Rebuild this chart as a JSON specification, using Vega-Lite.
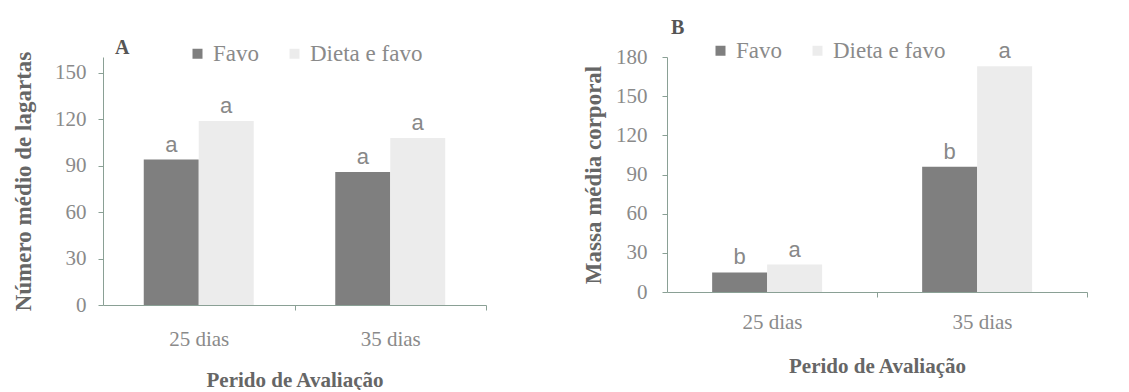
{
  "$schema": "https://vega.github.io/schema/vega-lite/v6.json",
  "background": "white",
  "padding": {"left": 12, "top": 18, "right": 0, "bottom": 0},
  "config": {
    "view": {"stroke": null},
    "font": "Liberation Serif",
    "style": {"guide-label": {"font": "Liberation Serif"}, "guide-title": {"font": "Liberation Serif"}},
    "axis": {
      "grid": false,
      "domainColor": "#8aa095",
      "tickColor": "#8aa095",
      "tickSize": 5,
      "labelFont": "Liberation Serif",
      "labelFontSize": 21,
      "labelColor": "#8a8a8a",
      "titleFont": "Liberation Serif",
      "titleFontWeight": "bold",
      "titleFontSize": 22,
      "titleColor": "#666666"
    },
    "legend": {
      "labelFont": "Liberation Serif",
      "labelFontSize": 23,
      "labelColor": "#8a8a8a",
      "symbolType": "square",
      "symbolSize": 100,
      "symbolStrokeWidth": 0
    }
  },
  "datasets": {
    "a": [
      {"periodo": "25 dias", "trat": "Favo", "valor": 94, "letra": "a"},
      {"periodo": "25 dias", "trat": "Dieta e favo", "valor": 119, "letra": "a"},
      {"periodo": "35 dias", "trat": "Favo", "valor": 86, "letra": "a"},
      {"periodo": "35 dias", "trat": "Dieta e favo", "valor": 108, "letra": "a"}
    ],
    "b": [
      {"periodo": "25 dias", "trat": "Favo", "valor": 15, "letra": "b"},
      {"periodo": "25 dias", "trat": "Dieta e favo", "valor": 21, "letra": "a"},
      {"periodo": "35 dias", "trat": "Favo", "valor": 96, "letra": "b"},
      {"periodo": "35 dias", "trat": "Dieta e favo", "valor": 173, "letra": "a"}
    ]
  },
  "spacing": 95,
  "resolve": {"scale": {"color": "independent"}, "legend": {"color": "independent"}},
  "hconcat": [
    {
      "width": 383,
      "height": 248,
      "title": {"text": "A", "anchor": "start", "frame": "group", "font": "Liberation Serif", "fontSize": 20, "fontWeight": "bold", "color": "#555555", "dx": 12, "dy": 20},
      "data": {"name": "a"},
      "encoding": {
        "x": {
          "field": "periodo", "type": "nominal", "sort": null,
          "scale": {"paddingInner": 0.4256, "paddingOuter": 0.2128},
          "axis": {"title": "Perido de Avaliação", "titleFontSize": 21, "labelFont": "Liberation Serif", "labelAngle": 0, "tickOffset": 95.75, "labelOffset": -95.75, "labelPadding": 18, "titlePadding": 20}
        },
        "xOffset": {"field": "trat", "type": "nominal", "sort": ["Favo", "Dieta e favo"], "scale": {"paddingInner": 0}},
        "y": {
          "field": "valor", "type": "quantitative",
          "scale": {"domain": [0, 160.3], "nice": false},
          "axis": {"values": [0, 30, 60, 90, 120, 150], "labelFont": "Liberation Serif", "title": "Número médio de lagartas", "titleFontSize": 23, "labelPadding": 12, "titlePadding": 19}
        }
      },
      "layer": [
        {
          "mark": {"type": "bar"},
          "encoding": {
            "color": {
              "field": "trat", "type": "nominal",
              "scale": {"domain": ["Favo", "Dieta e favo"], "range": ["#7f7f7f", "#ececec"]},
              "legend": {"orient": "none", "direction": "horizontal", "title": null, "legendX": 83, "legendY": -15, "columnPadding": 24, "labelFont": "Liberation Serif"}
            }
          }
        },
        {
          "mark": {"type": "text", "font": "Liberation Sans", "fontSize": 22, "color": "#888888", "baseline": "alphabetic", "dy": -8},
          "encoding": {"text": {"field": "letra"}}
        }
      ]
    },
    {
      "width": 420,
      "height": 235,
      "title": {"text": "B", "anchor": "start", "frame": "group", "font": "Liberation Serif", "fontSize": 20, "fontWeight": "bold", "color": "#555555", "dx": 4, "dy": 3},
      "data": {"name": "b"},
      "encoding": {
        "x": {
          "field": "periodo", "type": "nominal", "sort": null,
          "scale": {"paddingInner": 0.43, "paddingOuter": 0.215},
          "axis": {"title": "Perido de Avaliação", "titleFontSize": 21, "labelFont": "Liberation Serif", "labelAngle": 0, "tickOffset": 105, "labelOffset": -105, "labelPadding": 14, "titlePadding": 23}
        },
        "xOffset": {"field": "trat", "type": "nominal", "sort": ["Favo", "Dieta e favo"], "scale": {"paddingInner": 0}},
        "y": {
          "field": "valor", "type": "quantitative",
          "scale": {"domain": [0, 180], "nice": false},
          "axis": {"values": [0, 30, 60, 90, 120, 150, 180], "labelFont": "Liberation Serif", "title": "Massa média corporal", "titleFontSize": 23, "labelPadding": 15, "titlePadding": 10}
        }
      },
      "layer": [
        {
          "mark": {"type": "bar"},
          "encoding": {
            "color": {
              "field": "trat", "type": "nominal",
              "scale": {"domain": ["Favo", "Dieta e favo"], "range": ["#7f7f7f", "#ececec"]},
              "legend": {"orient": "none", "direction": "horizontal", "title": null, "legendX": 42, "legendY": -18, "columnPadding": 24, "labelFont": "Liberation Serif"}
            }
          }
        },
        {
          "mark": {"type": "text", "font": "Liberation Sans", "fontSize": 22, "color": "#888888", "baseline": "alphabetic", "dy": -8},
          "encoding": {"text": {"field": "letra"}}
        }
      ]
    }
  ]
}
